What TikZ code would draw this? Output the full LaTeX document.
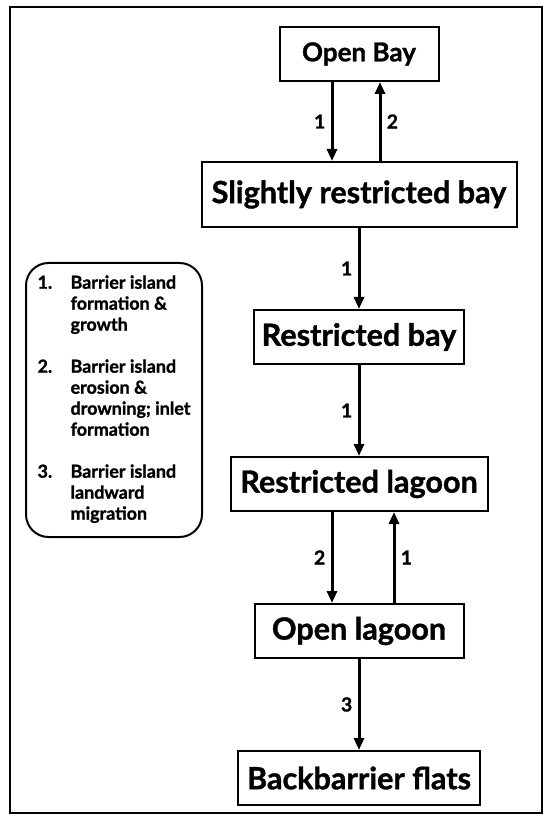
\documentclass[tikz,border=0pt]{standalone}
\usepackage{fontspec}
\setmainfont{Lato}[BoldFeatures={FakeBold=1.2}]
\usepackage{tikz}
\usetikzlibrary{arrows.meta,positioning}
\tikzset{
  st/.style={rectangle,draw,line width=0.04cm,minimum height=1.08cm,inner xsep=0.15cm,align=center,font=\fontsize{17.4}{21}\selectfont\bfseries},
  arr/.style={-{Triangle[length=0.24cm,width=0.2cm]},line width=0.06cm},
  lbl/.style={font=\fontsize{11}{13}\selectfont\bfseries,inner sep=3pt},
  key/.style={rectangle,draw,line width=0.04cm,rounded corners=0.45cm,minimum width=3.52cm,minimum height=5.48cm,align=left,font=\fontsize{10.2}{11.95}\selectfont\bfseries},
}

\begin{document}
\begin{tikzpicture}[node distance=1.82cm]
  \useasboundingbox (0,0) rectangle (11,-16.38);
  \draw[line width=0.04cm] (0.2,-0.14) rectangle (10.84,-16.26);
  \node[st,minimum width=3.18cm,font=\fontsize{14.8}{18}\selectfont\bfseries] (ob) at (7.18,-1.08) {Open Bay};
  \node[st,minimum width=6.3cm,minimum height=1.3cm,below=1.58cm of ob] (sb) {Slightly restricted bay};
  \node[st,minimum width=4.18cm,below=1.62cm of sb] (rb) {Restricted bay};
  \node[st,minimum width=5.14cm,below=of rb] (rl) {Restricted lagoon};
  \node[st,minimum width=4.18cm,below=of rl] (ol) {Open lagoon};
  \node[st,minimum width=4.84cm,below=of ol] (bf) {Backbarrier flats};
  \node[key] (k) at (2.28,-8) {\begin{tabular}{@{}p{0.66cm}@{}l@{}}
    1. & Barrier island\\
       & formation \&\\
       & growth\\[0.42cm]
    2. & Barrier island\\
       & erosion \&\\
       & drowning; inlet\\
       & formation\\[0.42cm]
    3. & Barrier island\\
       & landward\\
       & migration
  \end{tabular}};
  \draw[arr] ([xshift=-0.54cm]ob.south) -- ([xshift=-0.54cm]sb.north) node[midway,left,lbl] {1};
  \draw[arr] ([xshift=0.42cm]sb.north) -- ([xshift=0.42cm]ob.south) node[midway,right,lbl] {2};
  \draw[arr] (sb) -- (rb) node[midway,left,lbl] {1};
  \draw[arr] (rb) -- (rl) node[midway,left,lbl] {1};
  \draw[arr] ([xshift=-0.54cm]rl.south) -- ([xshift=-0.54cm]ol.north) node[midway,left,lbl] {2};
  \draw[arr] ([xshift=0.7cm]ol.north) -- ([xshift=0.7cm]rl.south) node[midway,right,lbl] {1};
  \draw[arr] (ol) -- (bf) node[midway,left,lbl] {3};
\end{tikzpicture}
\end{document}
